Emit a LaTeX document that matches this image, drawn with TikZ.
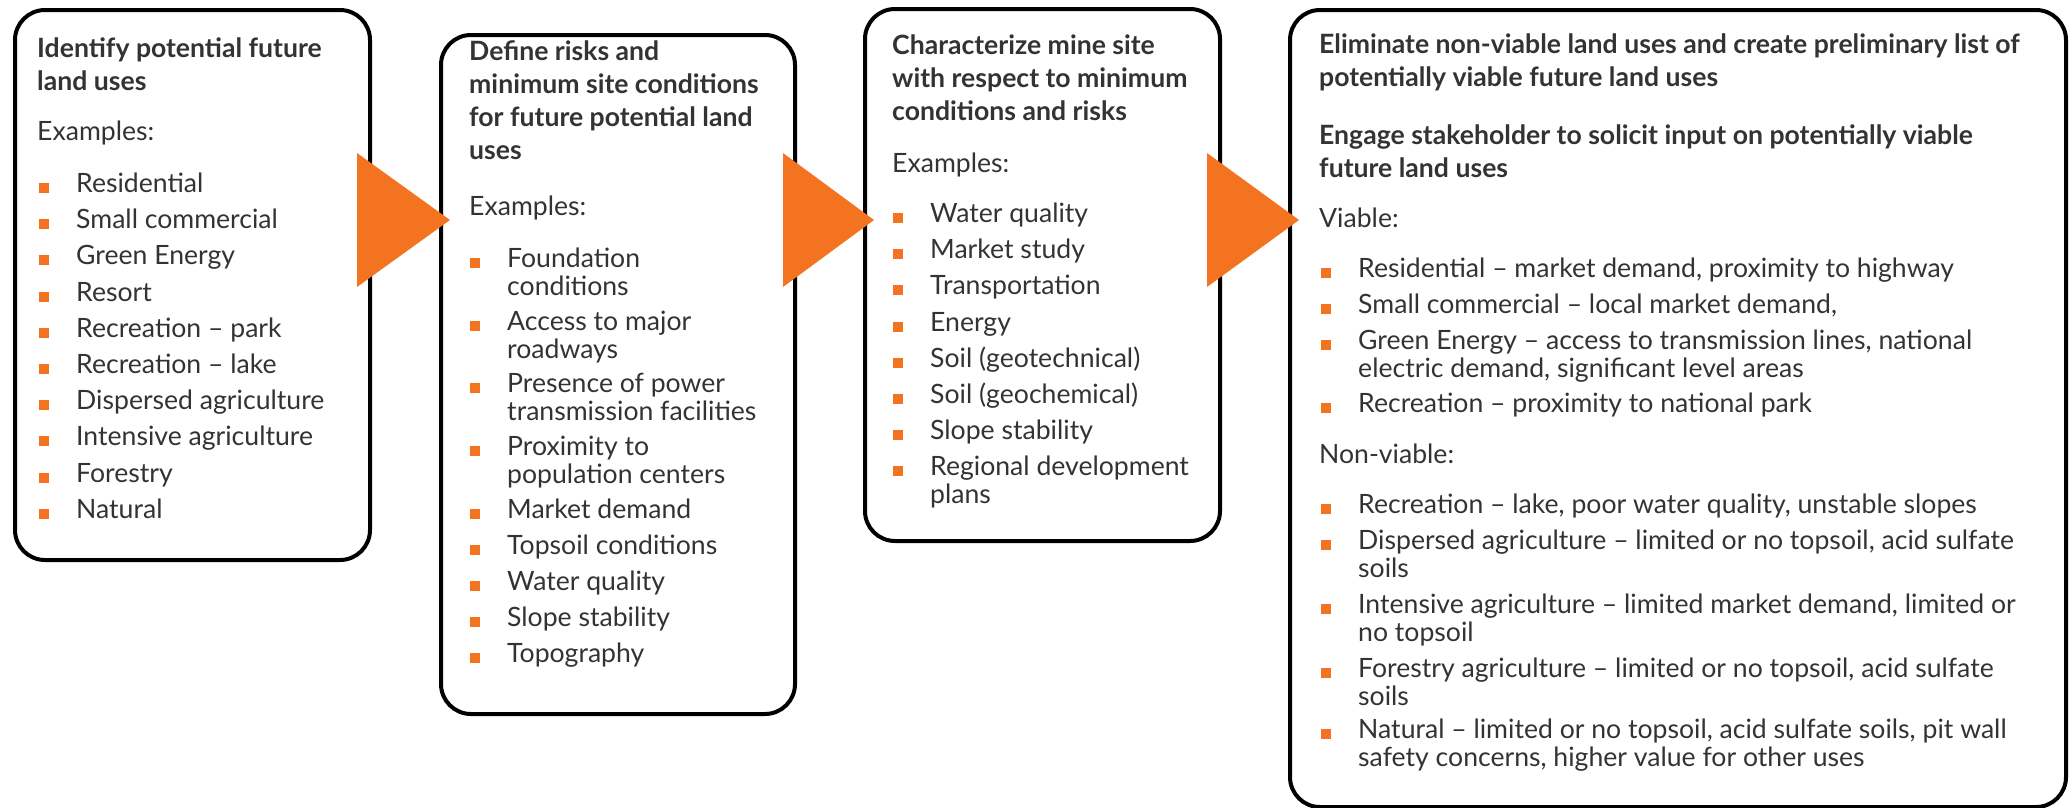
\documentclass[tikz,border=0pt]{standalone}
\usepackage{fontspec}
\setmainfont{Lato}
\definecolor{org}{HTML}{F37321}
\definecolor{txt}{HTML}{333333}
\newcommand\ml[1]{\hbox{\strut #1}}
\tikzset{
  box/.style={draw=black, line width=4pt, rounded corners=30pt, anchor=north west, inner sep=0pt},
  ttl/.style={anchor=base west, inner sep=0pt, text=txt,
    font=\fontsize{26.6}{33}\selectfont\bfseries},
  lbl/.style={anchor=base west, inner sep=0pt, text=txt,
    font=\fontsize{26.6}{26}\selectfont},
  itm/.style={lbl, append after command={
    \pgfextra{\fill[org] ([xshift=-37pt,yshift=9pt]\tikzlastnode.base west) rectangle ++(10,10);}}},
  arr/.style={fill=org}
}
\begin{document}
\begin{tikzpicture}[x=1pt,y=-1pt]
\useasboundingbox (0,0) rectangle (2069,807);
% boxes
\node[box, minimum width=355pt, minimum height=550pt] (b1) at (13,8) {};
\node[box, minimum width=354pt, minimum height=679pt] (b2) at (439,33) {};
\node[box, minimum width=355pt, minimum height=532pt] (b3) at (863,7) {};
\node[box, minimum width=776pt, minimum height=797pt] (b4) at (1288,8) {};
% box 1
\node[ttl] (t1) at (37,57) {\vtop{\ml{Identify potential future}\ml{land uses}}};
\node[lbl] (e1) at (37,140) {Examples:};
\node[itm] (i11) at (76,192) {Residential};
\node[itm] (i12) at (76,228) {Small commercial};
\node[itm] (i13) at (76,264) {Green Energy};
\node[itm] (i14) at (76,301) {Resort};
\node[itm] (i15) at (76,337) {Recreation – park};
\node[itm] (i16) at (76,373) {Recreation – lake};
\node[itm] (i17) at (76,409) {Dispersed agriculture};
\node[itm] (i18) at (76,445) {Intensive agriculture};
\node[itm] (i19) at (76,482) {Forestry};
\node[itm] (i110) at (76,518) {Natural};
% box 2
\node[ttl] (t2) at (469,60) {\vtop{\ml{Define risks and}\ml{minimum site conditions}\ml{for future potential land}\ml{uses}}};
\node[lbl] (e2) at (469,215) {Examples:};
\node[itm] (i21) at (507,267) {\vtop{\ml{Foundation}\ml{conditions}}};
\node[itm] (i22) at (507,330) {\vtop{\ml{Access to major}\ml{roadways}}};
\node[itm] (i23) at (507,392) {\vtop{\ml{Presence of power}\ml{transmission facilities}}};
\node[itm] (i24) at (507,455) {\vtop{\ml{Proximity to}\ml{population centers}}};
\node[itm] (i25) at (507,518) {Market demand};
\node[itm] (i26) at (507,554) {Topsoil conditions};
\node[itm] (i27) at (507,590) {Water quality};
\node[itm] (i28) at (507,626) {Slope stability};
\node[itm] (i29) at (507,662) {Topography};
% box 3
\node[ttl] (t3) at (892,54) {\vtop{\ml{Characterize mine site}\ml{with respect to minimum}\ml{conditions and risks}}};
\node[lbl] (e3) at (892,172) {Examples:};
\node[itm] (i31) at (930,222) {Water quality};
\node[itm] (i32) at (930,258) {Market study};
\node[itm] (i33) at (930,294) {Transportation};
\node[itm] (i34) at (930,331) {Energy};
\node[itm] (i35) at (930,367) {Soil (geotechnical)};
\node[itm] (i36) at (930,403) {Soil (geochemical)};
\node[itm] (i37) at (930,439) {Slope stability};
\node[itm] (i38) at (930,475) {\vtop{\ml{Regional development}\ml{plans}}};
% box 4
\node[ttl] (t4a) at (1319,53) {\vtop{\ml{Eliminate non-viable land uses and create preliminary list of}\ml{potentially viable future land uses}}};
\node[ttl] (t4b) at (1319,144) {\vtop{\ml{Engage stakeholder to solicit input on potentially viable}\ml{future land uses}}};
\node[lbl] (v4) at (1319,227) {Viable:};
\node[itm] (i41) at (1358,277) {Residential – market demand, proximity to highway};
\node[itm] (i42) at (1358,313) {Small commercial – local market demand,};
\node[itm] (i43) at (1358,349) {\vtop{\ml{Green Energy – access to transmission lines, national}\ml{electric demand, significant level areas}}};
\node[itm] (i44) at (1358,412) {Recreation – proximity to national park};
\node[lbl] (n4) at (1319,463) {Non-viable:};
\node[itm] (i45) at (1358,513) {Recreation – lake, poor water quality, unstable slopes};
\node[itm] (i46) at (1358,549) {\vtop{\ml{Dispersed agriculture – limited or no topsoil, acid sulfate}\ml{soils}}};
\node[itm] (i47) at (1358,613) {\vtop{\ml{Intensive agriculture – limited market demand, limited or}\ml{no topsoil}}};
\node[itm] (i48) at (1358,677) {\vtop{\ml{Forestry agriculture – limited or no topsoil, acid sulfate}\ml{soils}}};
\node[itm] (i49) at (1358,738) {\vtop{\ml{Natural – limited or no topsoil, acid sulfate soils, pit wall}\ml{safety concerns, higher value for other uses}}};
% arrows
\fill[arr] (357,153) -- (357,287) -- (450,220) -- cycle;
\fill[arr] (783,153) -- (783,287) -- (874,220) -- cycle;
\fill[arr] (1207,153) -- (1207,287) -- (1299,220) -- cycle;
\end{tikzpicture}
\end{document}
